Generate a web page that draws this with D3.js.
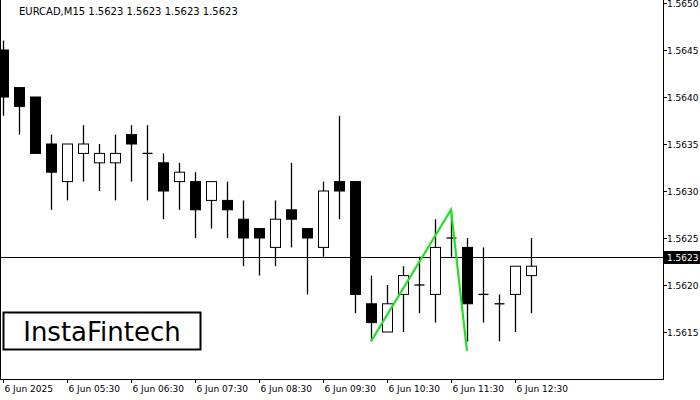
<!DOCTYPE html><html><head><meta charset="utf-8"><script src="https://cdn.jsdelivr.net/npm/d3@7"></script>
<style>body{margin:0;background:#fff}text{font-family:"DejaVu Sans",sans-serif}</style></head><body><svg id="c" width="700" height="400"></svg><script>
const opens =[1.5645,1.5641,1.5640,1.5635,1.5631,1.5634,1.5633,1.5633,1.5636,1.5634,1.5633,1.5631,1.5631,1.5629,1.5629,1.5627,1.5626,1.5624,1.5628,1.5626,1.5624,1.5631,1.5631,1.5618,1.5615,1.5619,1.5620,1.5619,1.5625,1.5624,1.5619,1.5618,1.5619,1.5621];
const highs =[1.5646,1.5641,1.5640,1.5636,1.5635,1.5637,1.5635,1.5636,1.5637,1.5637,1.5634,1.5633,1.5632,1.5631,1.5631,1.5629,1.5626,1.5629,1.5633,1.5626,1.5631,1.5638,1.5631,1.5621,1.5620,1.5622,1.5623,1.5627,1.5628,1.5625,1.5624,1.5619,1.5622,1.5625];
const lows  =[1.5638,1.5636,1.5634,1.5628,1.5629,1.5631,1.5630,1.5629,1.5631,1.5629,1.5627,1.5628,1.5625,1.5626,1.5625,1.5622,1.5621,1.5622,1.5624,1.5619,1.5623,1.5627,1.5617,1.5614,1.5615,1.5615,1.5617,1.5616,1.5623,1.5614,1.5616,1.5614,1.5615,1.5617];
const closes=[1.5640,1.5639,1.5634,1.5632,1.5635,1.5635,1.5634,1.5634,1.5635,1.5634,1.5630,1.5632,1.5628,1.5631,1.5628,1.5625,1.5625,1.5627,1.5627,1.5625,1.5630,1.5630,1.5619,1.5616,1.5618,1.5621,1.5620,1.5624,1.5625,1.5618,1.5619,1.5618,1.5622,1.5622];
const priceTicks=[1.5615,1.5620,1.5625,1.5630,1.5635,1.5640,1.5645,1.5650];
const timeLabels=[[0,"6 Jun 2025"],[4,"6 Jun 05:30"],[8,"6 Jun 06:30"],[12,"6 Jun 07:30"],[16,"6 Jun 08:30"],[20,"6 Jun 09:30"],[24,"6 Jun 10:30"],[28,"6 Jun 11:30"],[32,"6 Jun 12:30"]];
const pattern=[[23,1.5614],[28,1.5628],[29,1.5613]];
const current=1.5623;
const svg=d3.select("#c");
const y=d3.scaleLinear().domain([1.5645,1.5615]).range([50,332]);
const x=d3.scaleLinear().domain([0,1]).range([3,19]);
const W=663,B=379;
const g=svg.append("g");
g.append("clipPath").attr("id","cp").append("rect").attr("x",0).attr("y",0).attr("width",W).attr("height",B);
const p=g.append("g").attr("clip-path","url(#cp)");
p.append("line").attr("x1",0).attr("x2",W).attr("y1",Math.round(y(current))+.5).attr("y2",Math.round(y(current))+.5).attr("stroke","#000");
opens.forEach((o,i)=>{const c=closes[i],cx=Math.round(x(i))+.5;
 p.append("line").attr("x1",cx).attr("x2",cx).attr("y1",y(highs[i])).attr("y2",y(lows[i])).attr("stroke","#000").attr("stroke-width",1.3);
 const t=y(Math.max(o,c)),b=y(Math.min(o,c));
 if(Math.abs(o-c)<1e-7){p.append("line").attr("x1",cx-5).attr("x2",cx+5).attr("y1",t).attr("y2",t).attr("stroke","#000").attr("stroke-width",1.3);}
 else p.append("rect").attr("x",cx-5).attr("y",t).attr("width",10).attr("height",b-t).attr("fill",c<o?"#000":"#fff").attr("stroke","#000");
});
p.append("path").attr("d",d3.line().x(d=>x(d[0])).y(d=>y(d[1]))(pattern)).attr("fill","none").attr("stroke","#22e022").attr("stroke-width",2.2);
svg.append("rect").attr("x",0.5).attr("y",-1).attr("width",W).attr("height",B+1.5).attr("fill","none").attr("stroke","#000");
priceTicks.forEach(v=>{const yy=Math.round(y(v))+.5;
 svg.append("line").attr("x1",W).attr("x2",W+4).attr("y1",yy).attr("y2",yy).attr("stroke","#000");
 svg.append("text").attr("x",667).attr("y",yy+3.5).attr("font-size",9).text(v.toFixed(4));});
const cy=Math.round(y(current));
svg.append("rect").attr("x",W+1).attr("y",cy-6).attr("width",36).attr("height",13).attr("fill","#000");
svg.append("text").attr("x",667).attr("y",cy+3.5).attr("font-size",9).attr("fill","#fff").text(current.toFixed(4));
timeLabels.forEach(([i,l])=>{const xx=Math.round(x(i))+.5;
 svg.append("line").attr("x1",xx).attr("x2",xx).attr("y1",B).attr("y2",B+4).attr("stroke","#000");
 svg.append("text").attr("x",xx+1).attr("y",392).attr("font-size",9).text(l);});
svg.append("text").attr("x",19).attr("y",15).attr("font-size",10).text("EURCAD,M15  1.5623 1.5623 1.5623 1.5623");
svg.append("rect").attr("x",3.5).attr("y",312.5).attr("width",197).attr("height",37).attr("fill","#fff").attr("stroke","#000").attr("stroke-width",2);
svg.append("text").attr("x",102).attr("y",341).attr("text-anchor","middle").attr("font-size",26).attr("font-family","Lato, sans-serif").text("InstaFintech");
</script></body></html>
